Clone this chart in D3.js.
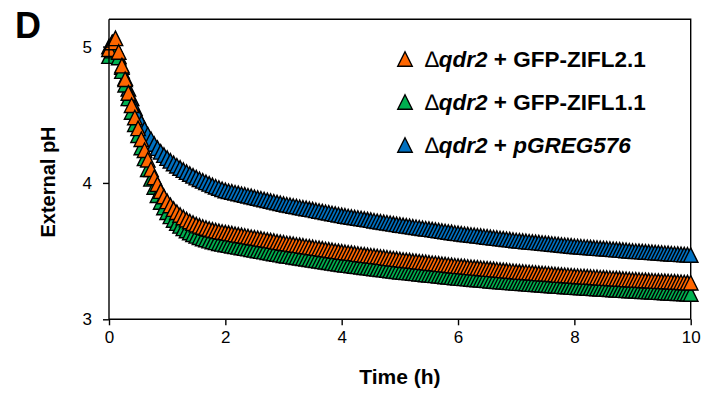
<!DOCTYPE html>
<html><head><meta charset="utf-8">
<script src="https://cdn.jsdelivr.net/npm/d3@7"></script>
<style>
body{margin:0;background:#fff}
svg{display:block}
text{font-family:"Liberation Sans",Arial,Helvetica,sans-serif;fill:#000}
</style>
</head><body><div id="chart"></div>
<script>
// ---- data: external pH, evenly spaced over 0-10 h ----
const timeStartHours = 0;
const timeEndHours = 10;
const xTickValues = [0, 2, 4, 6, 8, 10];
const yTickValues = [3, 4, 5];
const panelLabel = "D";
const xTitle = "Time (h)";
const yTitle = "External pH";

const phZIFL21 = [4.98,5.03,5.06,4.96,4.86,4.76,4.66,4.57,4.48,4.40,4.32,4.24,4.17,4.10,4.04,3.99,3.94,3.90,
3.865,3.835,3.808,3.785,3.765,3.747,3.731,3.717,3.705,3.694,3.685,3.677,3.669,3.662,3.656,3.650,3.645,3.640,3.636,
3.632,3.628,3.623,3.619,3.615,3.611,3.606,3.602,3.598,3.594,3.590,3.585,3.581,3.577,3.573,3.568,3.564,3.560,
3.556,3.553,3.549,3.545,3.542,3.538,3.534,3.531,3.527,3.523,3.520,3.516,3.512,3.509,3.505,3.501,3.498,3.494,
3.491,3.488,3.485,3.482,3.478,3.475,3.472,3.469,3.466,3.463,3.460,3.457,3.454,3.450,3.447,3.444,3.441,3.438,
3.435,3.433,3.430,3.427,3.425,3.422,3.419,3.417,3.414,3.411,3.409,3.406,3.403,3.401,3.398,3.395,3.393,3.390,
3.388,3.386,3.383,3.381,3.379,3.377,3.374,3.372,3.370,3.368,3.366,3.363,3.361,3.359,3.357,3.354,3.352,3.350,
3.348,3.346,3.345,3.343,3.341,3.339,3.337,3.335,3.334,3.332,3.330,3.328,3.326,3.324,3.323,3.321,3.319,3.317,
3.316,3.314,3.313,3.311,3.310,3.308,3.307,3.305,3.304,3.302,3.301,3.299,3.298,3.296,3.295,3.293,3.292,3.290,
3.289,3.288,3.286,3.285,3.284,3.283,3.281,3.280,3.279,3.278,3.277,3.275,3.274,3.273,3.272,3.270,3.269,3.268];

const phZIFL11 = [4.93,4.97,5.00,4.92,4.82,4.72,4.62,4.52,4.43,4.35,4.26,4.18,4.10,4.03,3.97,3.91,3.86,3.82,
3.785,3.755,3.728,3.705,3.685,3.667,3.651,3.637,3.624,3.612,3.602,3.593,3.585,3.577,3.570,3.564,3.558,3.553,3.548,
3.544,3.539,3.535,3.531,3.526,3.522,3.518,3.513,3.509,3.505,3.500,3.496,3.492,3.487,3.483,3.479,3.474,3.470,
3.466,3.463,3.459,3.455,3.451,3.448,3.444,3.440,3.436,3.433,3.429,3.425,3.422,3.418,3.414,3.410,3.407,3.403,
3.400,3.397,3.394,3.391,3.388,3.385,3.382,3.379,3.376,3.373,3.370,3.367,3.364,3.361,3.358,3.355,3.352,3.349,
3.347,3.344,3.342,3.339,3.337,3.334,3.332,3.329,3.327,3.324,3.322,3.319,3.317,3.314,3.312,3.309,3.307,3.304,
3.302,3.300,3.298,3.296,3.294,3.292,3.290,3.288,3.286,3.283,3.281,3.279,3.277,3.275,3.273,3.271,3.269,3.267,
3.265,3.264,3.262,3.260,3.258,3.257,3.255,3.253,3.252,3.250,3.248,3.246,3.245,3.243,3.241,3.240,3.238,3.236,
3.235,3.233,3.232,3.230,3.229,3.227,3.226,3.224,3.223,3.222,3.220,3.219,3.217,3.216,3.214,3.213,3.211,3.210,
3.209,3.207,3.206,3.205,3.203,3.202,3.201,3.199,3.198,3.197,3.195,3.194,3.193,3.191,3.190,3.189,3.187,3.186];

const phPGREG576 = [5.00,5.03,5.00,4.93,4.85,4.77,4.69,4.62,4.55,4.49,4.44,4.395,4.355,4.32,4.285,4.255,4.228,4.204,
4.182,4.162,4.143,4.126,4.11,4.094,4.079,4.065,4.052,4.039,4.027,4.015,4.004,3.993,3.982,3.972,3.963,3.954,3.945,
3.939,3.934,3.928,3.923,3.917,3.912,3.906,3.901,3.895,3.889,3.884,3.878,3.873,3.867,3.862,3.856,3.851,3.845,
3.840,3.836,3.831,3.827,3.822,3.817,3.813,3.808,3.804,3.799,3.794,3.790,3.785,3.781,3.776,3.771,3.767,3.762,
3.758,3.754,3.750,3.746,3.743,3.739,3.735,3.731,3.727,3.723,3.719,3.715,3.711,3.708,3.704,3.700,3.696,3.692,
3.689,3.685,3.682,3.678,3.675,3.671,3.668,3.664,3.661,3.658,3.654,3.651,3.647,3.644,3.640,3.637,3.633,3.630,
3.627,3.624,3.621,3.618,3.616,3.613,3.610,3.607,3.604,3.601,3.598,3.595,3.592,3.590,3.587,3.584,3.581,3.578,
3.576,3.573,3.571,3.569,3.566,3.564,3.562,3.559,3.557,3.555,3.552,3.550,3.548,3.545,3.543,3.541,3.538,3.536,
3.534,3.532,3.530,3.528,3.526,3.524,3.522,3.520,3.518,3.517,3.515,3.513,3.511,3.509,3.507,3.505,3.503,3.501,
3.499,3.498,3.496,3.494,3.493,3.491,3.489,3.488,3.486,3.484,3.483,3.481,3.479,3.478,3.476,3.474,3.473,3.471];

// legend text pieces
const legendDelta = ["\u2206", "\u2206", "\u2206"];
const legendStrain = ["qdr2", "qdr2", "qdr2"];
const legendPlain = [" + GFP-ZIFL2.1", " + GFP-ZIFL1.1", " + "];
const legendItalic = ["", "", "pGREG576"];
const seriesColors = ["#FF6600", "#00B050", "#0070C0"];
const seriesValues = [phZIFL21, phZIFL11, phPGREG576];
const drawOrder = [2, 1, 0];

// ---- chart ----
const W = 721, H = 394;
const svg = d3.select("#chart").append("svg").attr("width", W).attr("height", H);

const x = d3.scaleLinear().domain([0, 10]).range([109, 690.7]);
const y = d3.scaleLinear().domain([3, 5.2]).range([319.3, 19.3]);

const tri = {
  draw(ctx, size) {
    const w = Math.sqrt(size);
    ctx.moveTo(0, -w / 2);
    ctx.lineTo(w / 2, w / 2);
    ctx.lineTo(-w / 2, w / 2);
    ctx.closePath();
  }
};
const sym = d3.symbol().type(tri).size(14.5 * 14.5);

// frame (top/right)
svg.append("path")
  .attr("d", `M${x.range()[0]},${y.range()[1]}H${x.range()[1]}V${y.range()[0]}`)
  .attr("fill", "none").attr("stroke", "#000").attr("stroke-width", 1.4);

// series
drawOrder.forEach(si => {
  const vals = seriesValues[si];
  const tStep = (timeEndHours - timeStartHours) / (vals.length - 1);
  svg.append("g").selectAll("path")
    .data(vals)
    .join("path")
    .attr("d", sym)
    .attr("transform", (d, i) => `translate(${x(timeStartHours + i * tStep)},${y(d)})`)
    .attr("fill", seriesColors[si])
    .attr("stroke", "#000")
    .attr("stroke-width", 1.4);
});

// axes
const xAxis = svg.append("g").attr("transform", `translate(0,${y.range()[0]})`)
  .call(d3.axisBottom(x).tickValues(xTickValues).tickSize(6).tickPadding(6).tickFormat(d3.format("d")));
const yAxis = svg.append("g").attr("transform", `translate(${x.range()[0]},0)`)
  .call(d3.axisLeft(y).tickValues(yTickValues).tickSize(6).tickPadding(11).tickFormat(d3.format("d")));
[xAxis, yAxis].forEach(a => {
  a.select(".domain").attr("stroke", "#000").attr("stroke-width", 1.4);
  a.selectAll(".tick line").attr("stroke", "#000").attr("stroke-width", 1.4);
  a.selectAll(".tick text").attr("font-size", 17).attr("font-family", "Liberation Sans, Arial, sans-serif").attr("fill", "#000");
});
yAxis.select(".domain").attr("d", `M0,${y(5.2)}V${y(3)}`);
xAxis.select(".domain").attr("d", `M${x(0)},0H${x(10)}`);

// titles
svg.append("text").attr("x", 15).attr("y", 38).attr("font-size", 36).attr("font-weight", "bold").text(panelLabel);
svg.append("text").attr("x", (x(0) + x(10)) / 2).attr("y", 384).attr("text-anchor", "middle")
  .attr("font-size", 21).attr("font-weight", "bold").text(xTitle);
svg.append("text").attr("transform", `translate(55,182) rotate(-90)`).attr("text-anchor", "middle")
  .attr("font-size", 20).attr("font-weight", "bold").text(yTitle);

// legend
const legendY = [59, 102, 145];
seriesColors.forEach((c, i) => {
  svg.append("path").attr("d", sym).attr("transform", `translate(405,${legendY[i]})`)
    .attr("fill", c).attr("stroke", "#000").attr("stroke-width", 1.4);
  const t = svg.append("text").attr("x", 425).attr("y", legendY[i] + 8).attr("font-size", 22.5).attr("font-weight", "bold");
  t.append("tspan").attr("font-weight", "normal").text(legendDelta[i]);
  t.append("tspan").attr("font-style", "italic").text(legendStrain[i]);
  t.append("tspan").text(legendPlain[i]);
  if (legendItalic[i]) t.append("tspan").attr("font-style", "italic").text(legendItalic[i]);
});
</script>
</body></html>
